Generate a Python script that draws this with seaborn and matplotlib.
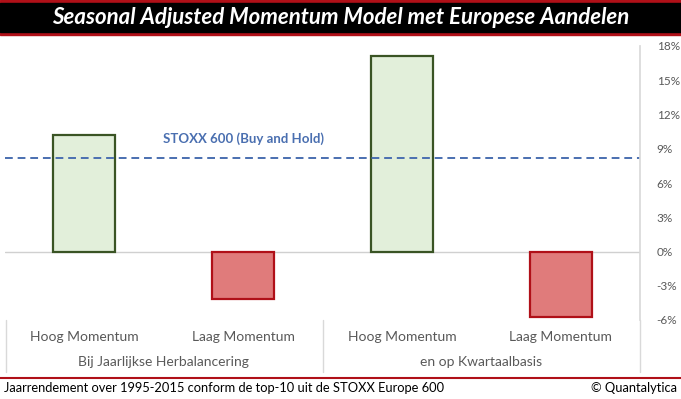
import matplotlib
matplotlib.use("Agg")
import matplotlib.pyplot as plt
import matplotlib.ticker as ticker
from matplotlib.patches import Rectangle
from matplotlib.lines import Line2D
import seaborn as sns
import pandas as pd

# data
momentum = ["Hoog Momentum", "Laag Momentum", "Hoog Momentum", "Laag Momentum"]
groups = ["Bij Jaarlijkse Herbalancering", "en op Kwartaalbasis"]
returns = [10.2, -4.2, 17.1, -5.7]
stoxx_bh = 8.2
yticks = [-6, -3, 0, 3, 6, 9, 12, 15, 18]

W, H = 681, 399
sns.set_theme(style="white")
plt.rcParams['font.family'] = ['Lato', 'DejaVu Sans']

df = pd.DataFrame({
    "key": [f"{m} {i}" for i, m in enumerate(momentum)],
    "rendement": returns,
})

fig = plt.figure(figsize=(W / 100, H / 100), dpi=100)
ax = fig.add_axes([5 / W, 1 - 320 / H, 635 / W, 274 / H])

fills = ["#e2efda" if v > 0 else "#e07b7b" for v in returns]
edges = ["#3a5424" if v > 0 else "#b01018" for v in returns]
sns.barplot(data=df, x="key", y="rendement", hue="key", palette=fills,
            saturation=1, legend=False, width=0.39, ax=ax)
for bar, ec in zip(ax.patches, edges):
    bar.set_edgecolor(ec)
    bar.set_linewidth(1.6)

ax.set_ylim(-6, 18)
ax.set_xlim(-0.5, 3.5)
ax.axhline(0, color="#d0d0d0", lw=1, zorder=0)
ax.axhline(stoxx_bh, color="#4a6fb0", lw=1.4, ls=(0, (4, 2.5)))
ax.text(1.0, stoxx_bh + 1.7, "STOXX 600 (Buy and Hold)", color="#4a6fb0",
        fontsize=9.5, fontweight="bold", ha="center", va="center")

ax.yaxis.tick_right()
ax.set_yticks(yticks)
ax.yaxis.set_major_formatter(ticker.FuncFormatter(lambda v, p: f"{v:.0f}%"))
ax.tick_params(axis="y", length=0, labelsize=8.5, labelcolor="#595959", pad=12)
ax.set_xticks([])
ax.set_xlabel("")
ax.set_ylabel("")
for s in ["top", "left", "bottom"]:
    ax.spines[s].set_visible(False)
ax.spines["right"].set_color("#d9d9d9")

# category labels (two levels)
for i, m in enumerate(momentum):
    ax.text(i, -7.5, m, ha="center", va="center", fontsize=10, color="#595959", clip_on=False)
for g, c in zip(groups, [0.5, 2.5]):
    ax.text(c, -9.7, g, ha="center", va="center", fontsize=10, color="#595959", clip_on=False)

# separators below the plot
for x in [6, 323, 640]:
    fig.add_artist(Line2D([x / W, x / W], [1 - 320 / H, 1 - 372 / H], color="#d9d9d9", lw=1))

# title band
fig.add_artist(Rectangle((0, 1 - 35 / H), 1, 35 / H, transform=fig.transFigure, color="#b01018", zorder=0))
fig.add_artist(Rectangle((0, 1 - 32 / H), 1, 29 / H, transform=fig.transFigure, color="black", zorder=1))
fig.text(0.5, 1 - 17.5 / H, "Seasonal Adjusted Momentum Model met Europese Aandelen",
         color="white", fontsize=16, fontweight="bold", fontstyle="italic",
         ha="center", va="center", zorder=2)

# footer
fig.add_artist(Line2D([0, 1], [1 - 378 / H, 1 - 378 / H], color="#b01018", lw=1.5))
fig.text(4 / W, 1 - 388 / H, "Jaarrendement over 1995-2015 conform de top-10 uit de STOXX Europe 600",
         fontsize=9.3, color="black", ha="left", va="center")
fig.text(677 / W, 1 - 388 / H, "© Quantalytica", fontsize=9.3, color="black",
         ha="right", va="center")

fig.savefig("out.png", dpi=100)
